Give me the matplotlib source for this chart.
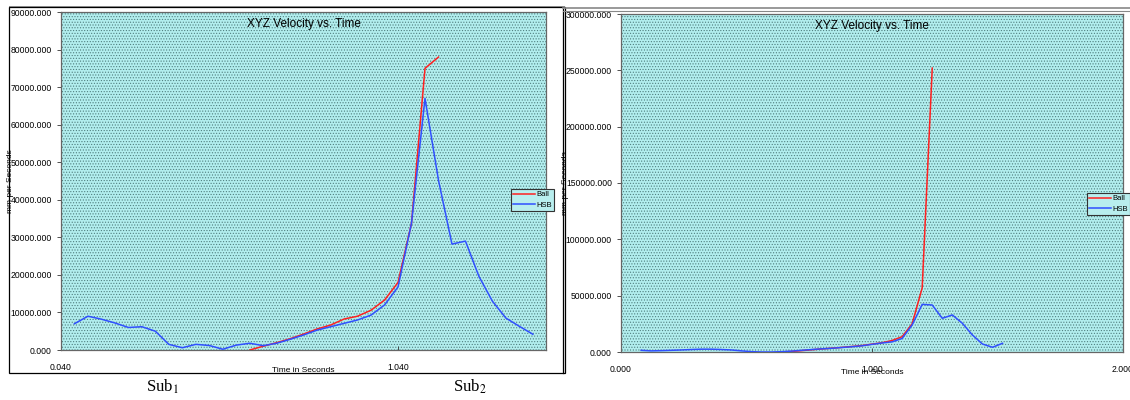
import matplotlib.pyplot as plt
from matplotlib.patches import Rectangle
from matplotlib.lines import Line2D

plt.rcParams['font.family'] = ['Liberation Sans', 'DejaVu Sans']
plt.rcParams['mathtext.fontset'] = 'stix'
plt.rcParams['hatch.linewidth'] = 0.5

# Sub1 data (seconds, mm per second)
sub1_ball_t = [0.60, 0.64, 0.68, 0.72, 0.76, 0.80, 0.84, 0.88, 0.92, 0.96,
               1.00, 1.04, 1.08, 1.12, 1.16]
sub1_ball_v = [0, 1000, 1950, 3000, 4250, 5600, 6650, 8250, 9000, 10600,
               13300, 18000, 33800, 75000, 78000]
sub1_hsb_t = [0.08, 0.12, 0.16, 0.20, 0.24, 0.28, 0.32, 0.36, 0.40, 0.44,
              0.48, 0.52, 0.56, 0.60, 0.64, 0.68, 0.72, 0.76, 0.80, 0.84,
              0.88, 0.92, 0.96, 1.00, 1.04, 1.08, 1.12, 1.16, 1.20, 1.24,
              1.28, 1.32, 1.36, 1.40, 1.44]
sub1_hsb_v = [7000, 9000, 8200, 7200, 6000, 6200, 5000, 1500, 600, 1500,
              1200, 200, 1300, 1800, 1150, 1800, 2850, 4000, 5300, 6200,
              7100, 8000, 9300, 12000, 16800, 33800, 67000, 45200, 28200, 29000,
              19600, 13000, 8500, 6300, 4200]

# Sub2 data
sub2_ball_t = [0.64, 0.68, 0.72, 0.76, 0.80, 0.84, 0.88, 0.92, 0.96, 1.00,
               1.04, 1.08, 1.12, 1.16, 1.20, 1.24]
sub2_ball_v = [0, 500, 1200, 2000, 2700, 3400, 4100, 4900, 5700, 7000,
               8200, 10200, 13600, 25000, 57000, 252000]
sub2_hsb_t = [0.08, 0.12, 0.16, 0.20, 0.24, 0.28, 0.32, 0.36, 0.40, 0.44,
              0.48, 0.52, 0.56, 0.60, 0.64, 0.68, 0.72, 0.76, 0.80, 0.84,
              0.88, 0.92, 0.96, 1.00, 1.04, 1.08, 1.12, 1.16, 1.20, 1.24,
              1.28, 1.32, 1.36, 1.40, 1.44, 1.48, 1.52]
sub2_hsb_v = [1500, 1000, 1200, 1500, 1800, 2200, 2500, 2500, 2200, 1800,
              1000, 300, 0, 0, 300, 800, 1500, 2200, 2800, 3300,
              4000, 4700, 5500, 6800, 8000, 9000, 12000, 24000, 42300, 41700,
              29900, 32900, 25500, 15100, 7100, 4200, 7700]

W, H = 1130, 400
fig = plt.figure(figsize=(11.3, 4.0), dpi=100)


def fx(px):
    return px / W


def fy(py):
    return 1 - py / H


def panel(rect, ball_t, ball_v, hsb_t, hsb_v, xlim, xticks, xlabels,
          ylim, ystep, leg_xy, title_y):
    ax = fig.add_axes(rect)
    ax.set_facecolor('#b2eeee')
    ax.add_patch(Rectangle((0, 0), 1, 1, transform=ax.transAxes,
                           facecolor='none', edgecolor='#507f7f',
                           hatch='......', linewidth=0, zorder=0))
    ax.plot(ball_t, ball_v, color='#ff2020', lw=1.1, label='Ball', zorder=3)
    ax.plot(hsb_t, hsb_v, color='#3050ff', lw=1.1, label='HSB', zorder=3)
    ax.set_xlim(*xlim)
    ax.set_ylim(*ylim)
    ax.set_xticks(xticks)
    ax.set_xticklabels(xlabels)
    yt = list(range(0, int(ylim[1]) + 1, ystep))
    ax.set_yticks(yt)
    ax.set_yticklabels(['%.3f' % v for v in yt])
    ax.tick_params(axis='both', labelsize=6.2, length=3, width=0.6,
                   colors='#333333', labelcolor='black')
    ax.tick_params(axis='x', pad=9, direction='in')
    for s in ax.spines.values():
        s.set_color('#666666')
        s.set_linewidth(0.9)
    ax.set_title('XYZ Velocity vs. Time', fontsize=8.5, y=title_y, pad=0)
    ax.set_xlabel('Time in Seconds', fontsize=6, labelpad=-1)
    ax.set_ylabel('mm per Seconds', fontsize=6, labelpad=-1)
    leg = ax.legend(loc='center left', bbox_to_anchor=leg_xy,
                    bbox_transform=fig.transFigure, fontsize=5.5,
                    frameon=True, fancybox=False, handlelength=2.8,
                    borderpad=0.3, labelspacing=0.4, handletextpad=0.2)
    leg.get_frame().set_edgecolor('#333333')
    leg.get_frame().set_facecolor('#b8eeee')
    leg.get_frame().set_linewidth(0.8)
    leg.get_frame().set_alpha(1)
    return ax


ax1 = panel([fx(61), fy(350), fx(546 - 61), (350 - 12) / H],
            sub1_ball_t, sub1_ball_v, sub1_hsb_t, sub1_hsb_v,
            (0.04, 1.479), [0.04, 1.04], ['0.040', '1.040'],
            (0, 90000), 10000, (fx(507), fy(200)), 0.955)
ax1.xaxis.set_label_coords(0.5, -0.05)
ax1.yaxis.set_label_coords(fx(14 - 61) / fx(546 - 61), 0.5)

ax2 = panel([fx(621), fy(352), fx(1123 - 621), (352 - 14) / H],
            sub2_ball_t, sub2_ball_v, sub2_hsb_t, sub2_hsb_v,
            (0.0, 2.0), [0.0, 1.0, 2.0], ['0.000', '1.000', '2.000'],
            (0, 300000), 50000, (fx(1083), fy(204)), 0.955)
ax2.xaxis.set_label_coords(0.5, -0.05)
ax2.yaxis.set_label_coords(fx(569 - 621) / fx(1123 - 621), 0.5)

# chart frames
fig.add_artist(Rectangle((fx(9), fy(373)), fx(565 - 9), (373 - 7) / H,
                         transform=fig.transFigure, facecolor='none',
                         edgecolor='black', linewidth=0.9))
fig.add_artist(Rectangle((fx(9), fy(7) - 0.001), fx(556), 0.003,
                         transform=fig.transFigure, facecolor='#888888',
                         edgecolor='none'))
fig.add_artist(Line2D([fx(563), fx(563)], [fy(373), fy(9)],
                      transform=fig.transFigure, color='black', lw=0.9))
fig.add_artist(Line2D([fx(563), 1], [fy(8), fy(8)],
                      transform=fig.transFigure, color='#888888', lw=1.2))
fig.add_artist(Line2D([fx(563), 1], [fy(11), fy(11)],
                      transform=fig.transFigure, color='#888888', lw=0.8))

fig.text(fx(162), fy(387), 'Sub$_1$', fontsize=12, family='Liberation Serif',
         ha='center', va='center')
fig.text(fx(470), fy(387), 'Sub$_2$', fontsize=12, family='Liberation Serif',
         ha='center', va='center')

fig.savefig('out.png', dpi=100)
